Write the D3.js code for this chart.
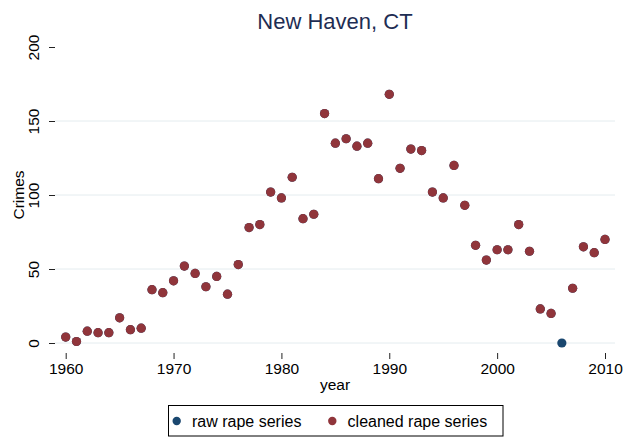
<!DOCTYPE html>
<html>
<head>
<meta charset="utf-8">
<script src="https://cdn.jsdelivr.net/npm/d3@7"></script>
<style>
  html, body { margin: 0; padding: 0; background: #fff; }
  svg { display: block; font-family: "Liberation Sans", Arial, Helvetica, sans-serif; }
</style>
</head>
<body>
<svg id="chart" width="636" height="437"></svg>
<script>
const years = d3.range(1960, 2011);
const cleaned = [4, 1, 8, 7, 7, 17, 9, 10, 36, 34,
  42, 52, 47, 38, 45, 33, 53, 78, 80, 102,
  98, 112, 84, 87, 155, 135, 138, 133, 135, 111,
  168, 118, 131, 130, 102, 98, 120, 93, 66, 56,
  63, 63, 80, 62, 23, 20, null, 37, 65, 61,
  70];
const raw = [4, 1, 8, 7, 7, 17, 9, 10, 36, 34,
  42, 52, 47, 38, 45, 33, 53, 78, 80, 102,
  98, 112, 84, 87, 155, 135, 138, 133, 135, 111,
  168, 118, 131, 130, 102, 98, 120, 93, 66, 56,
  63, 63, 80, 62, 23, 20, 0, 37, 65, 61,
  70];
const xTicks = [1960, 1970, 1980, 1990, 2000, 2010];
const yTicks = [0, 50, 100, 150, 200];
const gridTicks = [0, 50, 100, 150];
const seriesNames = ["raw rape series", "cleaned rape series"];
const colors = ["#1a476f", "#90353b"];

const svg = d3.select("#chart");
const x = d3.scaleLinear().domain([1960, 2010]).range([65.7, 605]);
const y = d3.scaleLinear().domain([0, 200]).range([343, 47]);
const plotL = 55, plotR = 615;

// gridlines
svg.append("g").selectAll("line").data(gridTicks).join("line")
  .attr("x1", plotL).attr("x2", plotR)
  .attr("y1", d => y(d)).attr("y2", d => y(d))
  .attr("stroke", "#e4ecef").attr("stroke-width", 1);

// y axis
const yAxis = svg.append("g").attr("transform", `translate(${plotL},0)`)
  .call(d3.axisLeft(y).tickValues(yTicks).tickSize(6).tickPadding(10));
yAxis.select(".domain").remove();
yAxis.selectAll(".tick line").attr("stroke", "#222");
yAxis.selectAll(".tick text")
  .attr("font-size", "15.5px").attr("fill", "#000")
  .attr("transform", "rotate(-90)")
  .attr("x", 0).attr("y", -16).attr("dy", 0)
  .attr("text-anchor", "middle");

// x axis
const xAxis = svg.append("g").attr("transform", `translate(0,353)`)
  .call(d3.axisBottom(x).tickValues(xTicks).tickFormat(d3.format("d")).tickSize(6).tickPadding(4));
xAxis.select(".domain").remove();
xAxis.selectAll(".tick line").attr("stroke", "#222");
xAxis.selectAll(".tick text")
  .attr("font-size", "15.5px").attr("fill", "#000")
  .attr("y", 21).attr("dy", 0);

// axis titles
svg.append("text").attr("transform", `translate(24,${y(100)}) rotate(-90)`)
  .attr("text-anchor", "middle").attr("font-size", "15.5px").text("Crimes");
svg.append("text").attr("x", (plotL + plotR) / 2).attr("y", 390)
  .attr("text-anchor", "middle").attr("font-size", "15.5px").text("year");

// title
svg.append("text").attr("x", (plotL + plotR) / 2).attr("y", 29)
  .attr("text-anchor", "middle").attr("font-size", "22px").attr("fill", "#1e2d53")
  .text("New Haven, CT");

// points
const rawData = years.map((yr, i) => ({ yr, v: raw[i] })).filter(d => d.v != null);
const cleanData = years.map((yr, i) => ({ yr, v: cleaned[i] })).filter(d => d.v != null);
svg.append("g").selectAll("circle").data(rawData).join("circle")
  .attr("cx", d => x(d.yr)).attr("cy", d => y(d.v)).attr("r", 4.6)
  .attr("fill", colors[0]);
svg.append("g").selectAll("circle").data(cleanData).join("circle")
  .attr("cx", d => x(d.yr)).attr("cy", d => y(d.v)).attr("r", 4.6)
  .attr("fill", colors[1]);

// legend
const lg = svg.append("g");
lg.append("rect").attr("x", 168.5).attr("y", 405.5).attr("width", 334.5).attr("height", 30.5)
  .attr("fill", "#fff").attr("stroke", "#000").attr("stroke-width", 1);
const legendX = [176.7, 332.3];
seriesNames.forEach((name, i) => {
  lg.append("circle").attr("cx", legendX[i]).attr("cy", 421).attr("r", 4.2).attr("fill", colors[i]);
  lg.append("text").attr("x", legendX[i] + 15.3).attr("y", 427).attr("font-size", "16px").text(name);
});
</script>
</body>
</html>
